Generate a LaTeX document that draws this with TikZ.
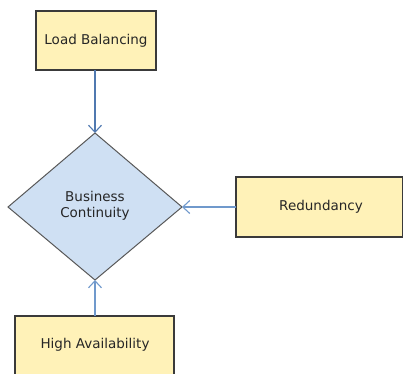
\documentclass[tikz,border=0pt]{standalone}
\usepackage{fontspec}
\setmainfont{DejaVu Sans}
\usetikzlibrary{shapes.geometric,arrows.meta}
\definecolor{boxfill}{HTML}{FFF2B8}
\definecolor{diafill}{HTML}{CFE0F3}
\definecolor{edge}{HTML}{3A3A3A}
\definecolor{link}{HTML}{7099CC}
\definecolor{linkdark}{HTML}{5079B0}
\tikzset{
  termbox/.style={draw=edge, line width=1.1pt, fill=boxfill, inner sep=0pt},
  hub/.style={draw=edge!85, line width=1pt, fill=diafill},
  flow/.style={draw=link, line width=1.2pt, -{Straight Barb[length=7pt,width=13pt,line width=1.1pt]}},
  label/.style={font=\fontsize{13.5}{16.5}\selectfont, align=center, text=black!85}
}
\begin{document}
\begin{tikzpicture}[x=1pt,y=-1pt]
  \useasboundingbox (0,0) rectangle (403,373);
  \begin{scope}
    \clip (0,0) rectangle (403,373);
    % boxes
    \draw[termbox] (36,11) rectangle (156,70);
    \draw[termbox] (236,177) rectangle (402.3,237);
    \draw[termbox] (15,316) rectangle (174,390);
    % diamond
    \draw[hub] (95,133) -- (182,207) -- (95,280) -- (8,207) -- cycle;
  \end{scope}
  \node[label] (lb) at (96,40.5) {Load Balancing};
  \node[label] (rd) at (321,207) {Redundancy};
  \node[label] (ha) at (95,345) {High Availability};
  \node[label] (bc) at (95,206) {Business\\Continuity};
  \coordinate (lbS) at (95,70);
  \coordinate (bcN) at (95,133);
  \coordinate (bcE) at (182,207);
  \coordinate (bcS) at (95,280);
  \coordinate (rdW) at (236,207);
  \coordinate (haN) at (95,316);
  \draw[flow, draw=linkdark, line width=1.8pt] (lbS) -- (bcN);
  \draw[flow] (rdW) -- (bcE);
  \draw[flow] (haN) -- (bcS);
\end{tikzpicture}
\end{document}
